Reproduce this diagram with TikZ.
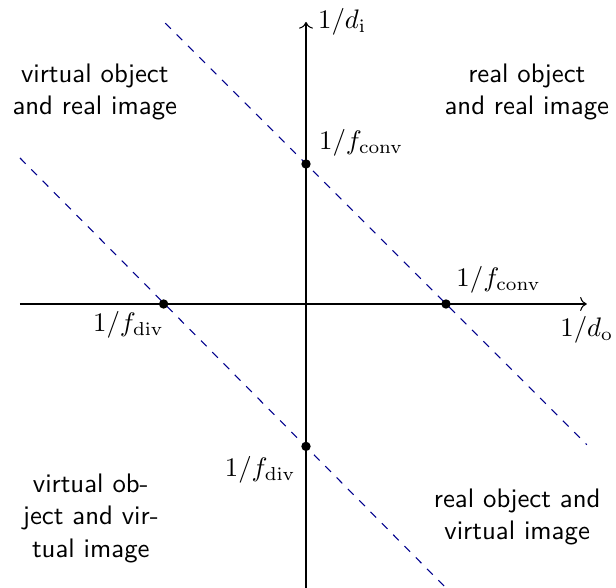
\documentclass[tikz,border=0pt]{standalone}
\usetikzlibrary{arrows.meta,positioning}

\begin{document}
\begin{tikzpicture}[x=1.05cm,y=1.05cm,font=\sffamily,node distance=0pt,
  dot/.style={circle,fill,inner sep=0pt,minimum size=3.5pt},
  region/.style={align=center},
  focal/.style={blue!55!black,dashed,thin},
  axis/.style={->}]
\useasboundingbox (-3.825,-3.55) rectangle (3.875,3.8);
% axes
\coordinate (xl) at (-3.575,0); \coordinate (xr) at (3.51,0);
\coordinate (yb) at (0,-3.55); \coordinate (yt) at (0,3.525);
\draw[axis] (xl) -- (xr);
\draw[axis] (yb) -- (yt);
\node[right=1pt of yt] (di) {$1/d_{\mathrm{i}}$};
\node[below=1pt of xr] (do) {$1/d_{\mathrm{o}}$};
% focal lines
\coordinate (c1) at (-1.76,3.51); \coordinate (c2) at (3.51,-1.76);
\coordinate (d1) at (-3.575,1.825); \coordinate (d2) at (1.75,-3.55);
\draw[focal] (c1) -- (c2);
\draw[focal] (d1) -- (d2);
% intercepts
\node[dot] (fcx) at (1.75,0) {};
\node[dot] (fcy) at (0,1.75) {};
\node[dot] (fdx) at (-1.78,0) {};
\node[dot] (fdy) at (0,-1.78) {};
\node[above right=-1pt and -1pt of fcx] (lcx) {$1/f_{\mathrm{conv}}$};
\node[above right=-2pt and 0pt of fcy] (lcy) {$1/f_{\mathrm{conv}}$};
\node[below left=-2pt and -5pt of fdx] (ldx) {$1/f_{\mathrm{div}}$};
\node[below left=-1pt and -1pt of fdy] (ldy) {$1/f_{\mathrm{div}}$};
% quadrants
\node[region] (vr) at (-2.64,2.65) {virtual object\\and real image};
\node[region] (rr) at (2.76,2.65) {real object\\and real image};
\node[region] (vv) at (-2.69,-2.68) {virtual ob-\\ject and vir-\\tual image};
\node[region] (rv) at (2.64,-2.66) {real object and\\virtual image};
\end{tikzpicture}
\end{document}
